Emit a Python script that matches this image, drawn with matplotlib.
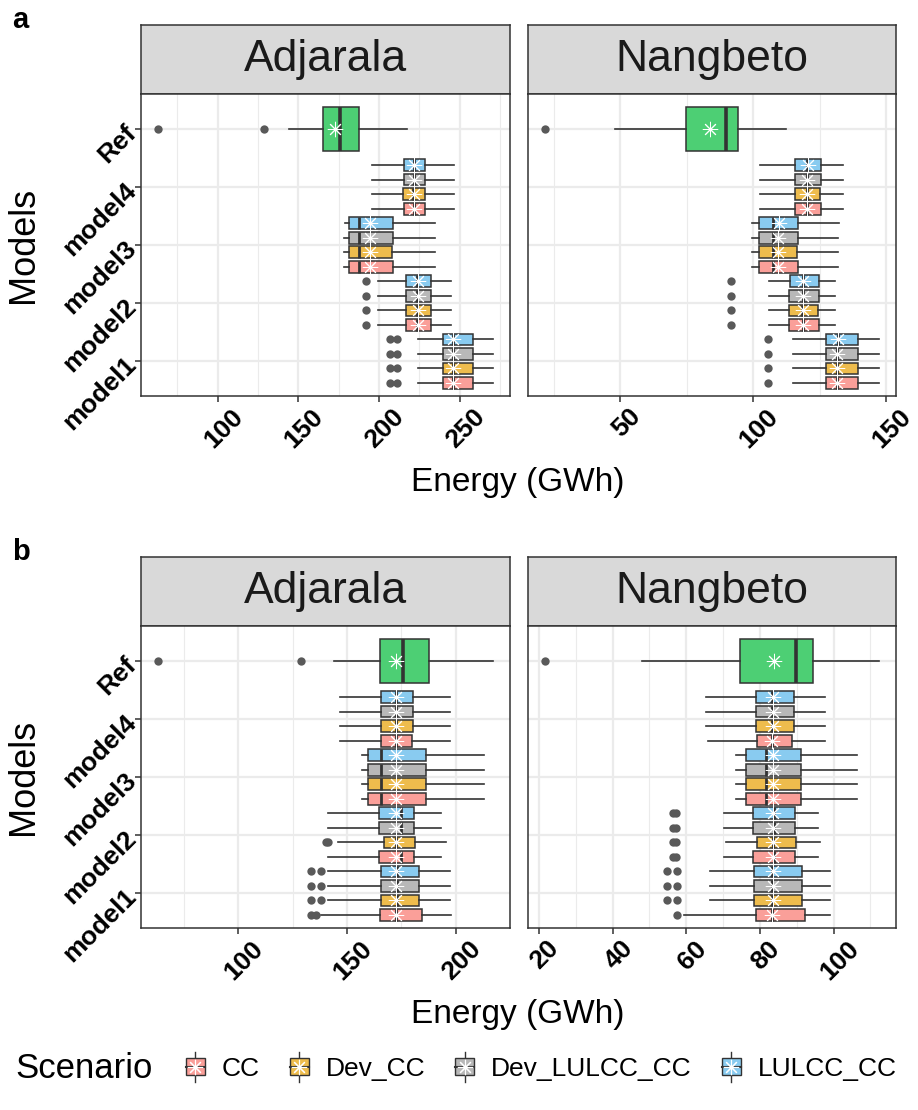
import matplotlib
matplotlib.use('Agg')
import matplotlib.pyplot as plt
import matplotlib.transforms as mtransforms
import numpy as np
from matplotlib.patches import Rectangle, Patch
from matplotlib.lines import Line2D
from matplotlib.legend_handler import HandlerBase
from matplotlib.ticker import MultipleLocator, AutoMinorLocator

plt.rcParams['font.family'] = ['Liberation Sans', 'DejaVu Sans']

models = ['model1', 'model2', 'model3', 'model4']
scenarios = ['CC', 'Dev_CC', 'Dev_LULCC_CC', 'LULCC_CC']
sites = ['Adjarala', 'Nangbeto']

# box stats: whislo, q1, med, q3, whishi, mean
ref_adjarala = [144.2, 165.0, 175.7, 187.6, 217.3, 172.6]
ref_adjarala_out = [63.0, 128.8]
ref_nangbeto = [47.9, 74.7, 89.8, 94.3, 112.4, 83.7]
ref_nangbeto_out = [21.6]

# panel a -- rows: model1..model4, columns: CC, Dev_CC, Dev_LULCC_CC, LULCC_CC
a_adjarala = [
    [[224.4, 239.6, 245.8, 258.0, 270.7, 246.0], [224.4, 239.5, 245.6, 257.9, 270.7, 245.9],
     [224.4, 239.5, 245.6, 258.0, 270.7, 246.0], [224.4, 239.5, 245.5, 257.9, 270.6, 245.9]],
    [[199.2, 216.7, 223.6, 232.1, 244.4, 224.0], [199.2, 216.6, 223.5, 232.0, 244.4, 223.9],
     [199.2, 216.7, 223.6, 232.1, 244.4, 224.0], [199.2, 216.8, 223.7, 232.1, 244.5, 224.1]],
    [[178.6, 181.5, 187.4, 208.4, 234.8, 194.6], [178.6, 181.5, 187.3, 208.3, 234.8, 194.5],
     [178.6, 181.5, 187.4, 208.4, 234.8, 194.6], [178.7, 181.6, 187.5, 208.5, 234.9, 194.7]],
    [[195.7, 215.2, 221.4, 228.6, 246.3, 221.5], [195.7, 215.1, 221.3, 228.5, 246.3, 221.4],
     [195.7, 215.2, 221.4, 228.6, 246.3, 221.5], [195.8, 215.3, 221.5, 228.7, 246.4, 221.6]],
]
a_adjarala_out = [
    [[206.6, 211.1]] * 4,
    [[192.2]] * 4,
    [[]] * 4,
    [[]] * 4,
]
a_nangbeto = [
    [[114.8, 127.4, 131.6, 139.4, 147.3, 131.6], [114.8, 127.3, 131.5, 139.3, 147.2, 131.5],
     [114.8, 127.4, 131.6, 139.4, 147.3, 131.6], [114.9, 127.5, 131.7, 139.5, 147.4, 131.7]],
    [[105.9, 113.6, 118.6, 124.6, 130.8, 118.8], [105.9, 113.5, 118.5, 124.5, 130.8, 118.7],
     [105.9, 113.6, 118.6, 124.6, 130.8, 118.8], [106.0, 113.7, 118.7, 124.7, 130.9, 118.9]],
    [[99.6, 102.1, 107.4, 116.7, 132.0, 109.5], [99.6, 102.0, 107.3, 116.6, 132.0, 109.4],
     [99.6, 102.1, 107.4, 116.7, 132.0, 109.5], [99.7, 102.2, 107.5, 116.8, 132.1, 109.6]],
    [[102.4, 115.7, 120.2, 125.3, 133.8, 120.4], [102.4, 115.6, 120.1, 125.2, 133.8, 120.3],
     [102.4, 115.7, 120.2, 125.3, 133.8, 120.4], [102.5, 115.8, 120.3, 125.4, 133.9, 120.5]],
]
a_nangbeto_out = [
    [[105.7]] * 4,
    [[91.6]] * 4,
    [[]] * 4,
    [[]] * 4,
]

# panel b
b_adjarala = [
    [[137.9, 165.1, 172.7, 184.5, 197.7, 172.6], [141.2, 165.9, 172.9, 183.0, 197.3, 172.6],
     [141.2, 165.9, 172.9, 183.0, 197.3, 172.6], [141.2, 165.9, 172.9, 183.0, 197.3, 172.6]],
    [[141.4, 164.8, 175.0, 181.0, 193.2, 172.4], [145.9, 167.0, 172.7, 181.5, 195.7, 172.6],
     [141.4, 164.8, 175.0, 181.0, 193.2, 172.4], [141.4, 164.8, 175.0, 181.0, 193.2, 172.4]],
    [[156.8, 159.8, 165.9, 186.4, 212.9, 172.7], [156.8, 159.8, 165.9, 186.4, 212.9, 172.7],
     [156.8, 159.8, 165.9, 186.4, 212.9, 172.7], [156.8, 159.8, 165.9, 186.4, 212.9, 172.7]],
    [[147.0, 165.5, 172.5, 180.1, 197.3, 172.6], [147.0, 165.9, 172.5, 180.3, 197.3, 172.7],
     [147.0, 165.9, 172.5, 180.3, 197.3, 172.7], [147.0, 165.9, 172.5, 180.3, 197.3, 172.7]],
]
b_adjarala_out = [
    [[133.3, 136.0], [133.3, 137.9], [133.3, 137.9], [133.3, 137.9]],
    [[], [140.5, 141.4], [], []],
    [[]] * 4,
    [[]] * 4,
]
b_nangbeto = [
    [[59.4, 78.9, 83.3, 92.3, 99.1, 83.4], [66.5, 78.4, 83.3, 91.4, 99.1, 83.5],
     [66.5, 78.4, 83.3, 91.4, 99.1, 83.5], [66.5, 78.4, 83.3, 91.4, 99.1, 83.5]],
    [[70.3, 78.0, 83.8, 89.6, 95.8, 83.5], [70.8, 79.1, 83.6, 89.9, 96.4, 83.6],
     [70.3, 78.0, 83.8, 89.6, 95.8, 83.5], [70.3, 78.0, 83.8, 89.6, 95.8, 83.5]],
    [[73.6, 76.3, 81.6, 91.2, 106.3, 83.6], [73.6, 76.3, 81.6, 91.2, 106.3, 83.6],
     [73.6, 76.3, 81.6, 91.2, 106.3, 83.6], [73.6, 76.3, 81.6, 91.2, 106.3, 83.6]],
    [[66.0, 79.1, 83.3, 88.8, 97.7, 83.4], [65.4, 78.9, 83.3, 89.2, 97.7, 83.5],
     [65.4, 78.9, 83.3, 89.2, 97.7, 83.5], [65.4, 78.9, 83.3, 89.2, 97.7, 83.5]],
]
b_nangbeto_out = [
    [[57.6], [54.9, 57.6], [54.9, 57.6], [54.9, 57.6]],
    [[56.4, 57.3]] * 4,
    [[]] * 4,
    [[]] * 4,
]


def blend(c, alpha=0.7):
    # fill colour drawn with alpha on a white background
    rgb = np.array(matplotlib.colors.to_rgb(c))
    return tuple(rgb * alpha + (1 - alpha))


scen_colors = [blend(c) for c in ['#F8766D', '#E69F00', '#999999', '#56B4E9']]
ref_color = blend('#00BA38')
dark = '#333333'
grid = '#EBEBEB'

W, H = 918, 1110
fig = plt.figure(figsize=(W / 100, H / 100), dpi=100)


def px_axes(x0, y0, x1, y1):
    return fig.add_axes([x0 / W, 1 - y1 / H, (x1 - x0) / W, (y1 - y0) / H])


def box_kw(fc, med_lw):
    return dict(
        orientation='horizontal', patch_artist=True, showmeans=True, showcaps=False,
        boxprops=dict(facecolor=fc, edgecolor=dark, linewidth=1.1),
        whiskerprops=dict(color=dark, linewidth=1.2),
        medianprops=dict(color=dark, linewidth=med_lw),
        meanprops=dict(marker=(8, 2, 0), markersize=11, markeredgecolor='white',
                       markerfacecolor='white', markeredgewidth=0.7),
        flierprops=dict(marker='o', markersize=6, markerfacecolor='#595959',
                        markeredgecolor='none'),
    )


def to_stats(s, out):
    return dict(whislo=s[0], q1=s[1], med=s[2], q3=s[3], whishi=s[4], mean=s[5], fliers=out)


def draw_facet(ax, stats, outs, ref, ref_out, step):
    offsets = [-0.375, -0.125, 0.125, 0.375]
    for j in range(4):
        bs = [to_stats(stats[i][j], outs[i][j]) for i in range(4)]
        pos = [i + 1 + offsets[j] for i in range(4)]
        ax.bxp(bs, positions=pos, widths=0.2, **box_kw(scen_colors[j], 2.0))
    ax.bxp([to_stats(ref, ref_out)], positions=[5], widths=0.75, **box_kw(ref_color, 2.6))

    # free x scale with 5% padding
    vals = [v for row in stats for s in row for v in (s[0], s[4])]
    vals += [v for row in outs for o in row for v in o] + [ref[0], ref[4]] + ref_out
    lo, hi = min(vals), max(vals)
    pad = 0.05 * (hi - lo)
    ax.set_xlim(lo - pad, hi + pad)
    ax.set_ylim(0.4, 5.6)
    ax.xaxis.set_major_locator(MultipleLocator(step))
    ax.xaxis.set_minor_locator(AutoMinorLocator(2))
    ax.set_yticks([1, 2, 3, 4, 5])
    ax.grid(which='major', color=grid, linewidth=1.6, zorder=0)
    ax.grid(which='minor', axis='x', color=grid, linewidth=0.8, zorder=0)
    ax.set_axisbelow(True)
    for sp in ax.spines.values():
        sp.set_color(dark)
        sp.set_linewidth(1.1)
    ax.tick_params(which='major', length=4, width=1.1, color=dark, pad=2)
    ax.tick_params(which='minor', length=0)
    shift = mtransforms.ScaledTranslation(6 / 100, 0, fig.dpi_scale_trans)
    for lab in ax.get_xticklabels():
        lab.set_rotation(45)
        lab.set_ha('center')
        lab.set_va('top')
        lab.set_fontweight('bold')
        lab.set_fontsize(19)
        lab.set_transform(lab.get_transform() + shift)


def draw_strip(x0, y0, x1, y1, name):
    s = px_axes(x0, y0, x1, y1)
    s.set_facecolor('#D9D9D9')
    s.set_xticks([])
    s.set_yticks([])
    for sp in s.spines.values():
        sp.set_color(dark)
        sp.set_linewidth(1.1)
    s.text(0.5, 0.5, name, ha='center', va='center', fontsize=32, color='#1A1A1A',
           transform=s.transAxes)


def draw_panel(top, letter, data):
    strip_h = 69
    bottom = top + strip_h + 302
    cols = [(141, 510), (528, 896)]
    for k, (x0, x1) in enumerate(cols):
        draw_strip(x0, top, x1, top + strip_h, sites[k])
        ax = px_axes(x0, top + strip_h, x1, bottom)
        stats, outs, ref, ref_out, step = data[k]
        draw_facet(ax, stats, outs, ref, ref_out, step)
        if k == 0:
            ax.set_yticklabels(models + ['Ref'], rotation=45, ha='right', va='center',
                               rotation_mode='anchor', fontweight='bold', fontsize=19)
        else:
            ax.set_yticklabels([])
            ax.tick_params(axis='y', length=0)
    fig.text(12 / W, 1 - (top - 5) / H, letter, fontsize=21, fontweight='bold',
             ha='left', va='center')
    fig.text(23 / W, 1 - (top + strip_h + 151) / H, 'Models', rotation=90,
             fontsize=26, ha='center', va='center')
    fig.text(518 / W, 1 - (bottom + 86) / H, 'Energy (GWh)', fontsize=24,
             ha='center', va='center')


draw_panel(25, 'a', [
    (a_adjarala, a_adjarala_out, ref_adjarala, ref_adjarala_out, 50),
    (a_nangbeto, a_nangbeto_out, ref_nangbeto, ref_nangbeto_out, 50),
])
draw_panel(557, 'b', [
    (b_adjarala, b_adjarala_out, ref_adjarala, ref_adjarala_out, 50),
    (b_nangbeto, b_nangbeto_out, ref_nangbeto, ref_nangbeto_out, 20),
])


class BoxKey(HandlerBase):
    # small vertical boxplot glyph for the legend keys
    def create_artists(self, legend, orig_handle, xdescent, ydescent, width, height,
                       fontsize, trans):
        fc = orig_handle.get_facecolor()
        cx = width / 2 - xdescent
        bw, bh = width * 0.72, height * 0.72
        y0 = -ydescent + (height - bh) / 2
        whisk = Line2D([cx, cx], [-ydescent - height * 0.12, -ydescent + height * 1.12],
                       color=dark, lw=1.0, transform=trans)
        rect = Rectangle((cx - bw / 2, y0), bw, bh, facecolor=fc, edgecolor=dark,
                         lw=1.0, transform=trans)
        med = Line2D([cx - bw / 2, cx + bw / 2], [y0 + bh / 2] * 2, color=dark, lw=1.5,
                     transform=trans)
        star = Line2D([cx], [y0 + bh / 2], marker=(8, 2, 0), markersize=11,
                      markeredgecolor='white', markeredgewidth=0.8, transform=trans)
        return [whisk, rect, med, star]


handles = [Patch(facecolor=c) for c in scen_colors]
fig.text(15 / W, 1 - 1068 / H, 'Scenario', fontsize=25, ha='left', va='center')
fig.legend(handles, scenarios, loc='center left', bbox_to_anchor=(182 / W, 1 - 1068 / H),
           ncol=4, frameon=False, fontsize=19, handler_map={Patch: BoxKey()},
           handlelength=1.0, handleheight=1.0, handletextpad=0.5, columnspacing=1.0,
           borderpad=0, borderaxespad=0)

fig.savefig('out.png', dpi=100)
